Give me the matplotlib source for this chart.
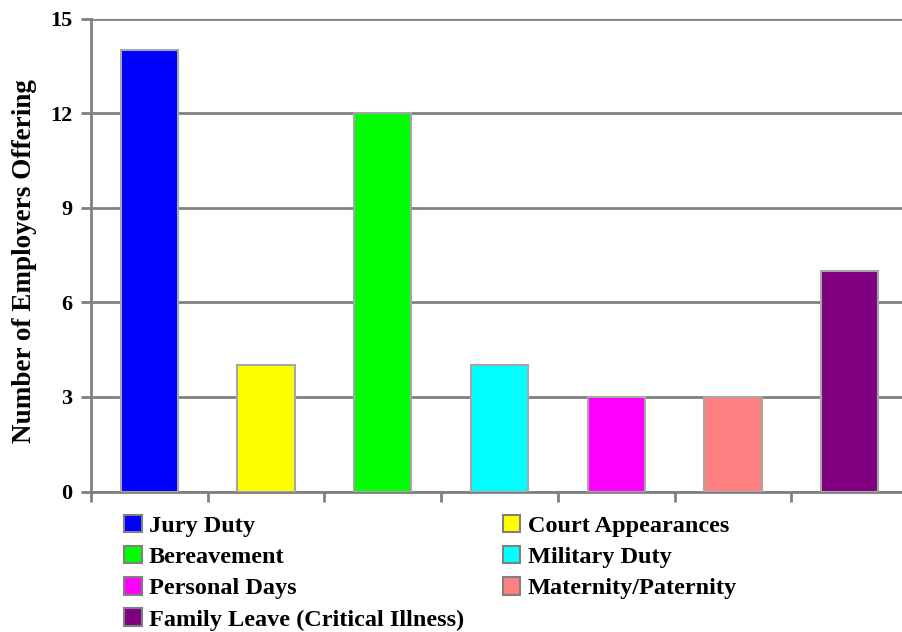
import matplotlib
matplotlib.use('Agg')
import matplotlib.pyplot as plt
from matplotlib.patches import Patch

# data
categories = ['Jury Duty', 'Court Appearances', 'Bereavement', 'Military Duty',
              'Personal Days', 'Maternity/Paternity', 'Family Leave (Critical Illness)']
values = [14, 4, 12, 4, 3, 3, 7]
colors = ['#0000ff', '#ffff00', '#00ff00', '#00ffff', '#ff00ff', '#ff8080', '#800080']
yticks = [0, 3, 6, 9, 12, 15]

plt.rcParams['font.family'] = ['Liberation Serif', 'DejaVu Serif']
plt.rcParams['font.weight'] = 'bold'

W, H = 902, 632
fig = plt.figure(figsize=(W / 100, H / 100), dpi=100)
ax = fig.add_axes([91 / W, 1 - 491.5 / H, 817 / W, (491.5 - 18.5) / H])

x = list(range(len(values)))
ax.bar(x, values, width=0.49, color=colors, edgecolor='#a6a6a6', linewidth=1.5, zorder=3)

ax.set_xlim(-0.5, len(values) - 0.5)
ax.set_ylim(0, 15)
ax.set_yticks(yticks)
ax.set_xticks([i - 0.5 for i in range(len(values))])
ax.set_xticklabels([])
ax.yaxis.grid(True, color='#808080', linewidth=2, zorder=0)
ax.set_axisbelow(True)

for s in ['top', 'right']:
    ax.spines[s].set_visible(False)
for s in ['left', 'bottom']:
    ax.spines[s].set_color('#808080')
    ax.spines[s].set_linewidth(2)
ax.tick_params(axis='both', color='#808080', width=2, length=7.5, direction='out')
ax.tick_params(axis='y', labelsize=16, pad=6)
for lab in ax.get_yticklabels():
    lab.set_fontweight('bold')

ax.set_ylabel('Number of Employers Offering', fontsize=19.5, fontweight='bold')
ax.yaxis.set_label_coords(-54 / 817, 0.487)

# legend, row-wise order across two columns
handles = [Patch(facecolor=c, edgecolor='#808080', linewidth=1.5) for c in colors]
order = [0, 2, 4, 6, 1, 3, 5]
fig.legend([handles[i] for i in order], [categories[i] for i in order],
           loc='upper left', bbox_to_anchor=(124 / W, 1 - 515 / H), ncol=2,
           frameon=False, prop={'size': 17.5, 'weight': 'bold'},
           handlelength=0.72, handleheight=0.72, handletextpad=0.3,
           labelspacing=0.37, columnspacing=1.6, borderpad=0, borderaxespad=0)

fig.savefig('out.png', dpi=100)
